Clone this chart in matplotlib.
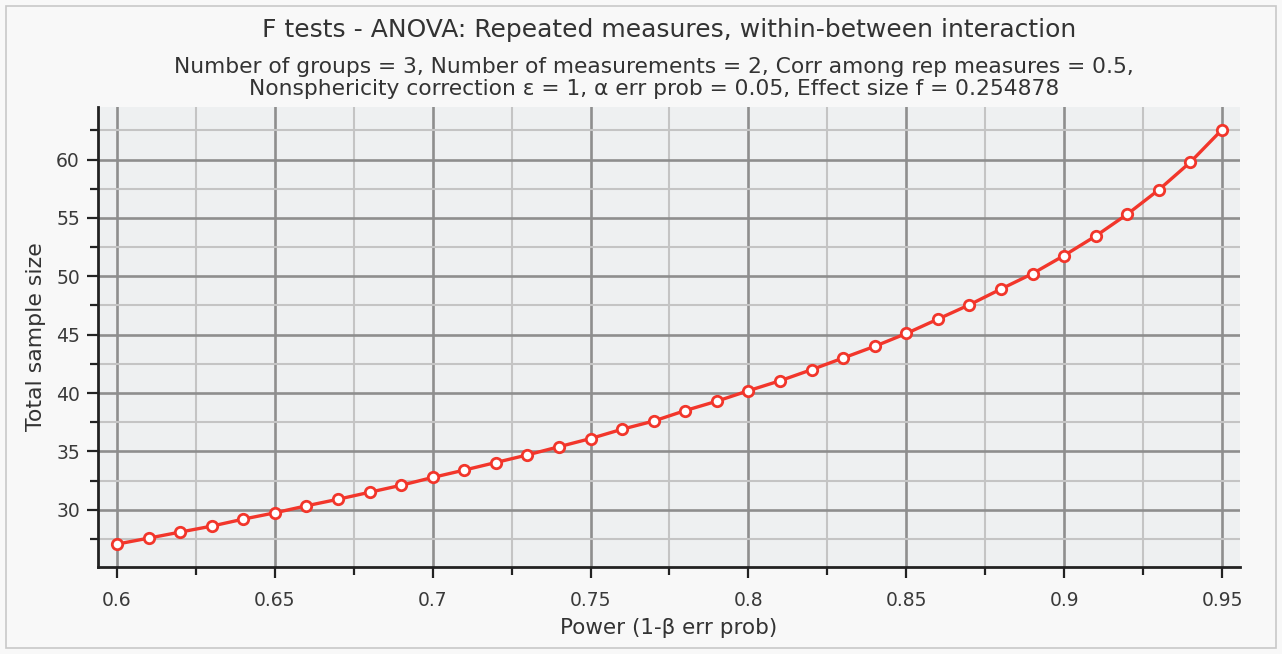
import numpy as np
import matplotlib.pyplot as plt
from matplotlib.ticker import MultipleLocator
from matplotlib.patches import Rectangle

plt.rcParams['font.family'] = ['DejaVu Sans']

# Datos.
potencia = [0.60, 0.61, 0.62, 0.63, 0.64, 0.65, 0.66, 0.67, 0.68, 0.69,
            0.70, 0.71, 0.72, 0.73, 0.74, 0.75, 0.76, 0.77, 0.78, 0.79,
            0.80, 0.81, 0.82, 0.83, 0.84, 0.85, 0.86, 0.87, 0.88, 0.89,
            0.90, 0.91, 0.92, 0.93, 0.94, 0.95]
tamano_total = [27.06, 27.57, 28.09, 28.60, 29.20, 29.74, 30.34, 30.90, 31.50, 32.10,
                32.77, 33.40, 34.05, 34.70, 35.40, 36.10, 36.90, 37.60, 38.50, 39.30,
                40.20, 41.05, 42.00, 43.00, 44.00, 45.10, 46.33, 47.56, 48.91, 50.23,
                51.78, 53.45, 55.32, 57.41, 59.78, 62.56]

titulo = 'F tests - ANOVA: Repeated measures, within-between interaction'
subtitulo = ('Number of groups = 3, Number of measurements = 2, Corr among rep measures = 0.5,\n'
             'Nonsphericity correction ε = 1, α err prob = 0.05, Effect size f = 0.254878')

fig = plt.figure(figsize=(12.82, 6.54), dpi=100, facecolor='#f8f8f8')
ax = fig.add_axes([98/1282, 87/654, (1240-98)/1282, (567-107)/654])
ax.set_facecolor('#eef0f1')

# Marco exterior del panel.
fig.patches.append(Rectangle((6/1282, 6/654), 1270/1282, 642/654, transform=fig.transFigure,
                             fill=False, edgecolor='#c8c8c8', linewidth=1.2))

ax.plot(potencia, tamano_total, color='#f2362b', linewidth=2.4, marker='o', markersize=7.5,
        markerfacecolor='white', markeredgecolor='#f2362b', markeredgewidth=2, zorder=3)

ax.set_xlim(0.594, 0.9557)
ax.set_ylim(25.1, 64.5)
ax.xaxis.set_major_locator(MultipleLocator(0.05))
ax.xaxis.set_minor_locator(MultipleLocator(0.025))
ax.yaxis.set_major_locator(MultipleLocator(5))
ax.yaxis.set_minor_locator(MultipleLocator(2.5))
ax.set_xticks(np.arange(0.6, 0.951, 0.05))
ax.set_xticklabels(['0.6', '0.65', '0.7', '0.75', '0.8', '0.85', '0.9', '0.95'])
ax.set_yticks([30, 35, 40, 45, 50, 55, 60])

ax.grid(True, which='major', color='#8e8e8e', linewidth=1.9)
ax.grid(True, which='minor', color='#c4c4c4', linewidth=1.5)
ax.set_axisbelow(True)

for lado in ['top', 'right']:
    ax.spines[lado].set_visible(False)
for lado in ['left', 'bottom']:
    ax.spines[lado].set_color('#222222')
    ax.spines[lado].set_linewidth(2)

ax.tick_params(which='major', direction='out', length=8, width=1.6, colors='#222222',
               labelsize=13.5, labelcolor='#3a3a3a')
ax.tick_params(which='minor', direction='out', length=6, width=1.6, colors='#222222')
ax.tick_params(axis='x', pad=9)
ax.tick_params(axis='y', pad=5)

ax.set_xlabel('Power (1-β err prob)', fontsize=15.5, color='#333333', labelpad=6)
ax.set_ylabel('Total sample size', fontsize=15.8, color='#333333', labelpad=7)

fig.text(0.522, 1 - 30/654, titulo, ha='center', va='center', fontsize=18, color='#333333')
fig.text(0.51, 1 - 78/654, subtitulo, ha='center', va='center', fontsize=15.7, color='#333333',
         linespacing=1.15)

fig.savefig('out.png', dpi=100, facecolor=fig.get_facecolor())
